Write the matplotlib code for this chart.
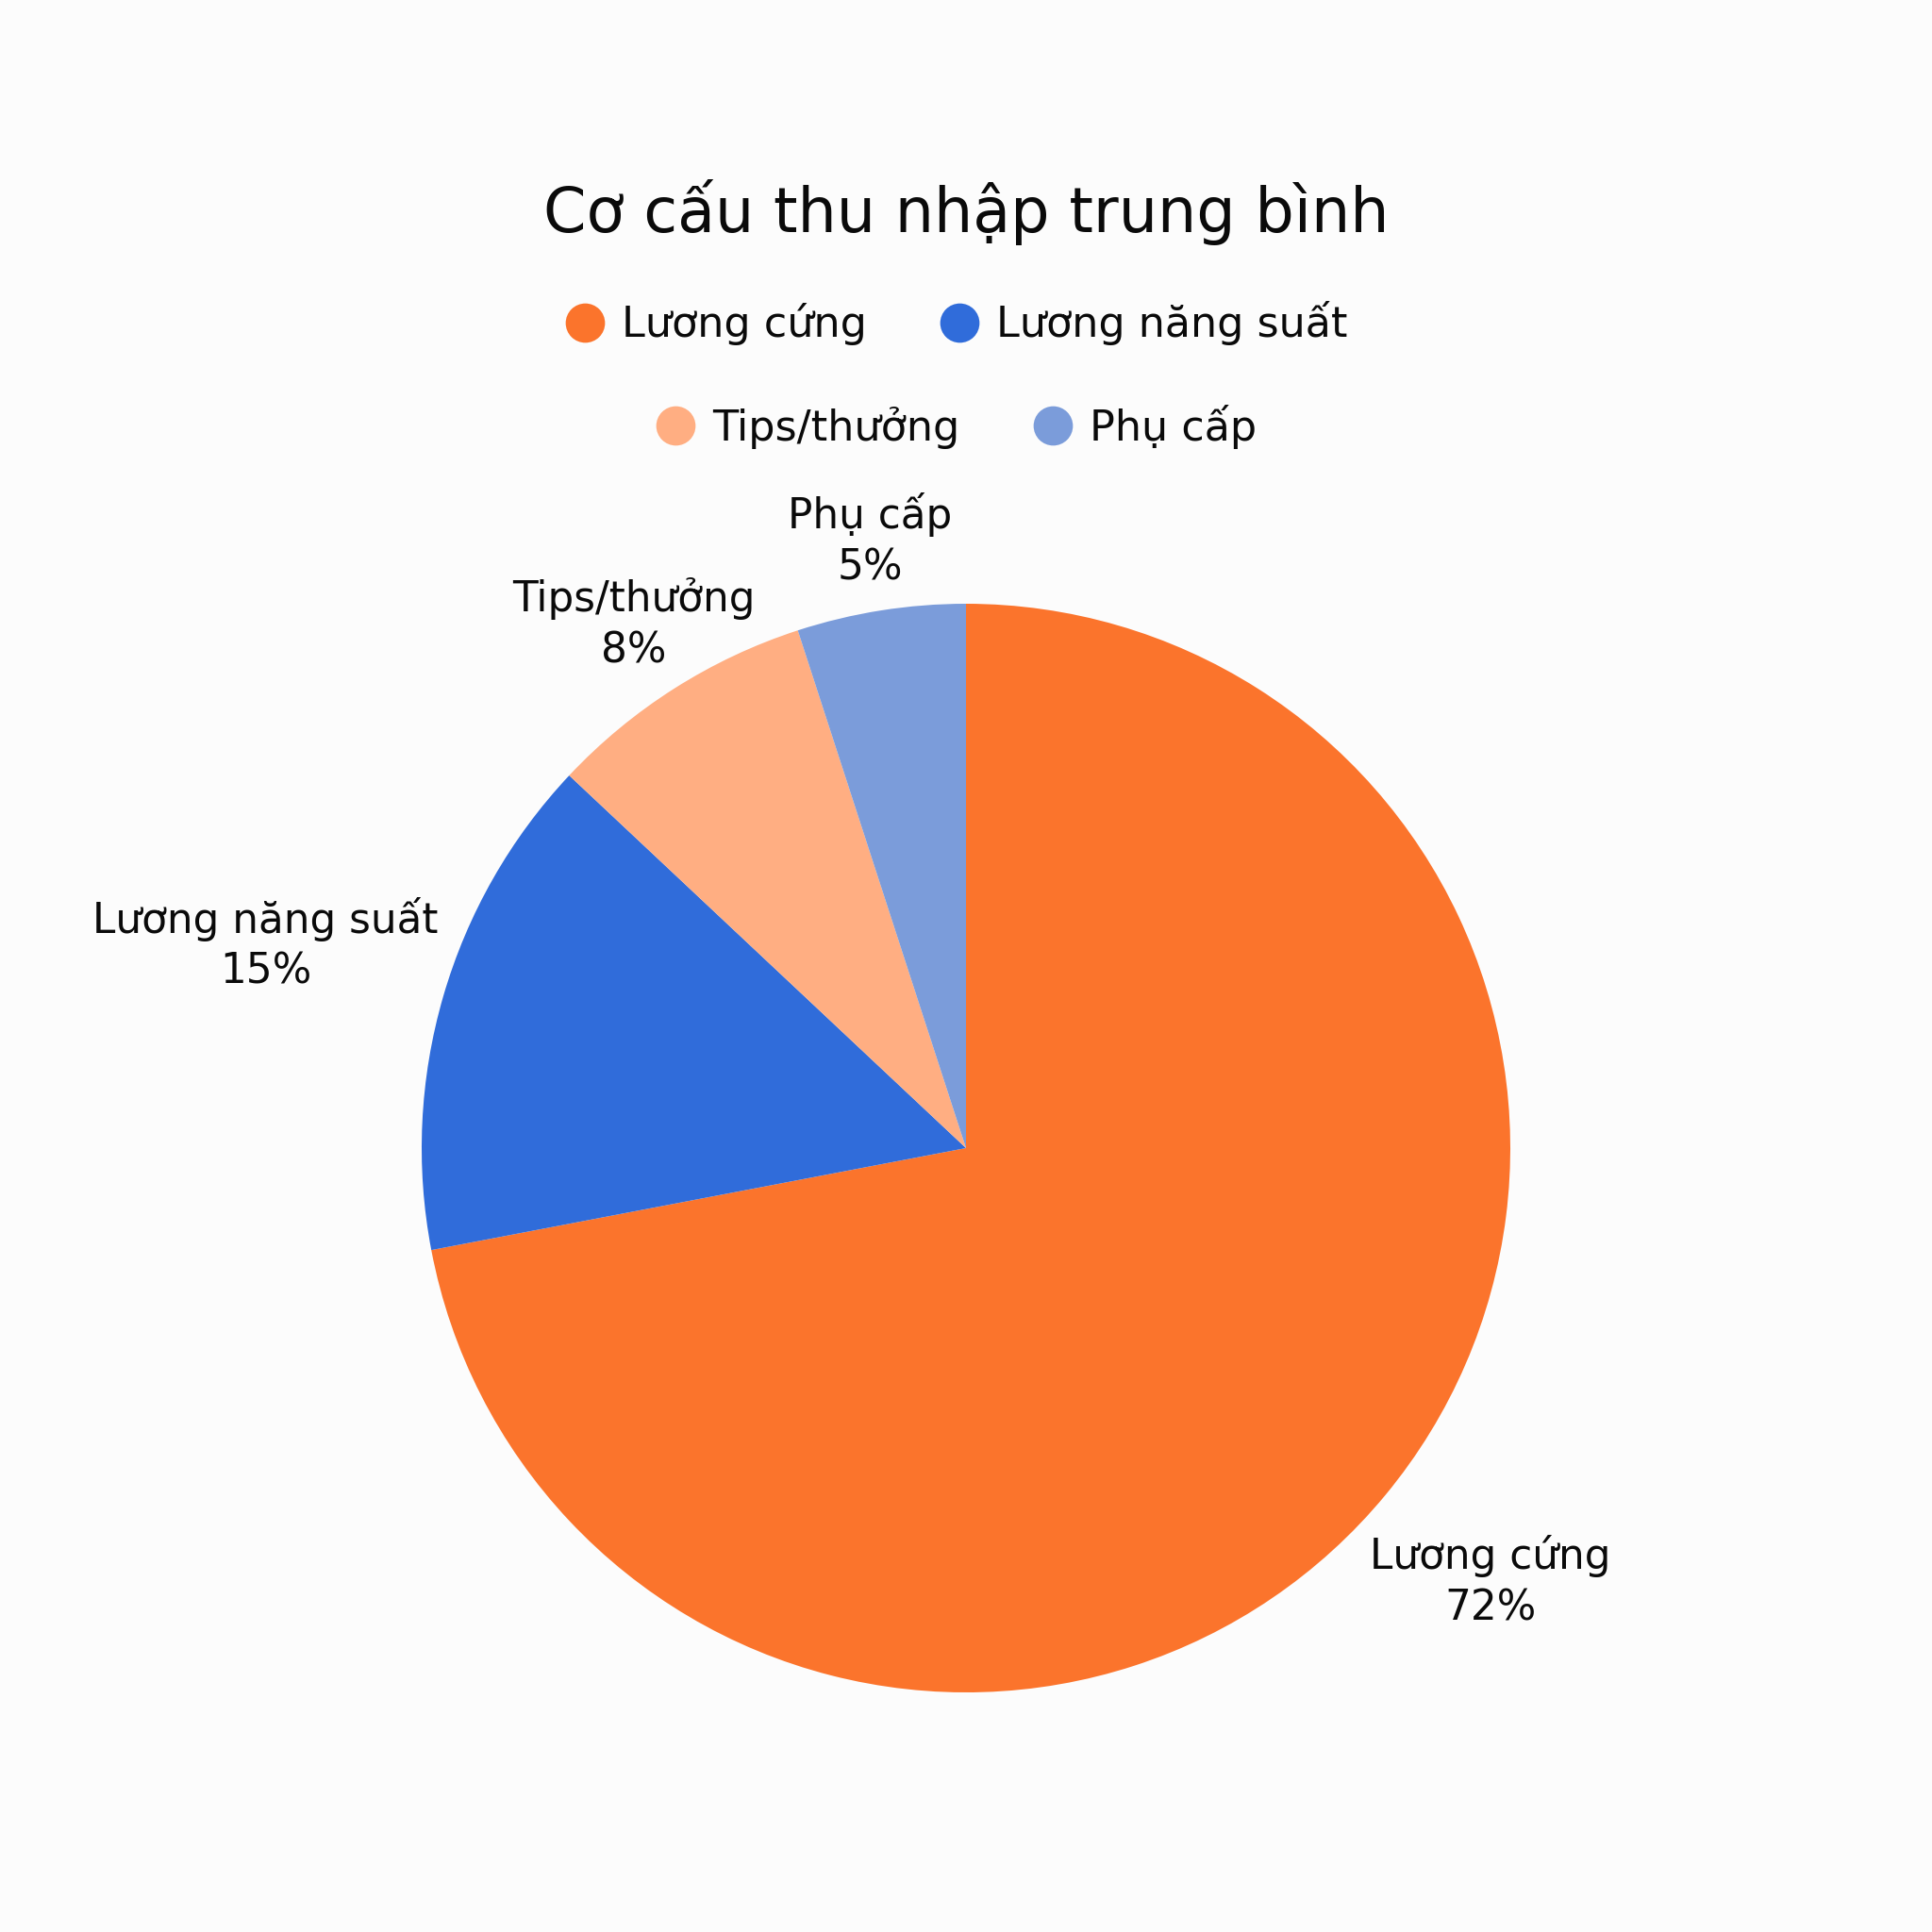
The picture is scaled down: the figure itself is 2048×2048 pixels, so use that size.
import numpy as np
import matplotlib
matplotlib.use("Agg")
from matplotlib import pyplot as plt
from matplotlib.lines import Line2D

TITLE = "Cơ cấu thu nhập trung bình"
categories = ["Lương cứng", "Lương năng suất", "Tips/thưởng", "Phụ cấp"]
values = [72, 15, 8, 5]
colors = ["#FB742C", "#306CDA", "#FFAE82", "#7B9CDA"]
# how far out each outer label sits (in radii)
label_dist = [1.25, 1.34, 1.14, 1.13]

BG = "#FCFCFC"
plt.rcParams["font.family"] = ["DejaVu Sans"]

fig = plt.figure(figsize=(20.48, 20.48), dpi=100, facecolor=BG)

# pie centre / radius in figure fractions
cx, cy, r = 0.5, 1 - 1217 / 2048, 577 / 2048
ax = fig.add_axes([cx - r, cy - r, 2 * r, 2 * r])
ax.set_facecolor(BG)

wedges, _ = ax.pie(values, colors=colors, startangle=90, counterclock=False,
                   radius=1, wedgeprops=dict(linewidth=0))
ax.set_xlim(-1, 1)
ax.set_ylim(-1, 1)
ax.set_aspect("equal")
ax.axis("off")

total = sum(values)
for w, name, v, d in zip(wedges, categories, values, label_dist):
    ang = np.deg2rad((w.theta1 + w.theta2) / 2)
    ax.text(d * np.cos(ang), d * np.sin(ang), "{}\n{}%".format(name, round(100 * v / total)),
            ha="center", va="center", fontsize=31.5, linespacing=1.33, color="#0A0A0A")

fig.text(0.5, 1 - 225 / 2048, TITLE, ha="center", va="center", fontsize=47, color="#0A0A0A")

handles = [Line2D([], [], marker="o", linestyle="none", markersize=30,
                  markerfacecolor=c, markeredgewidth=0) for c in colors]
rows = [(0, 1, 343), (2, 3, 452)]
for i, j, ypix in rows:
    leg = fig.legend([handles[i], handles[j]], [categories[i], categories[j]],
                     loc="center", bbox_to_anchor=(0.495, 1 - ypix / 2048), ncol=2,
                     frameon=False, fontsize=32, handlelength=0.95, handletextpad=0.4,
                     columnspacing=1.75, borderpad=0)
    for t in leg.get_texts():
        t.set_color("#0A0A0A")

fig.savefig("out.png", dpi=100, facecolor=BG)
